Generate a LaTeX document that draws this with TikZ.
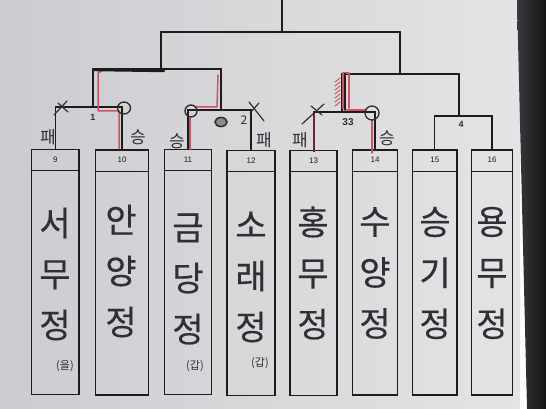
\documentclass[tikz,border=0pt]{standalone}
\usepackage{fontspec}
\setsansfont{Liberation Sans}
\newfontfamily\hand[FakeBold=0.4]{Noto Sans CJK KR}
\newfontfamily\handthin{Noto Sans CJK KR}
\usepackage{tikz}
\usetikzlibrary{positioning,calc}

\definecolor{paperL}{RGB}{204,204,208}
\definecolor{paperR}{RGB}{228,228,230}
\definecolor{ink}{RGB}{28,28,30}
\definecolor{pen}{RGB}{48,48,52}
\definecolor{marker}{RGB}{206,84,96}
\definecolor{darkmarker}{RGB}{110,36,44}
\definecolor{edgeL}{RGB}{58,58,62}
\definecolor{edgeR}{RGB}{20,20,22}

\tikzset{
  teambox/.style={draw=ink, line width=1.6pt, rectangle, inner sep=0pt, minimum height=245pt},
  bracket/.style={draw=ink, line width=1.1pt},
  redpen/.style={draw=marker, line width=1.5pt, line cap=round, line join=round},
  scrawl/.style={draw=pen, line width=1.2pt, line cap=round},
  num/.style={font=\sffamily\fontsize{8}{8}\selectfont, text=ink, inner sep=0pt},
  hname/.style={font=\hand\fontsize{34}{51}\selectfont, align=center, text=pen, inner sep=0pt},
  note/.style={font=\handthin\fontsize{17}{17}\selectfont, text=pen, inner sep=0pt},
  paren/.style={font=\handthin\fontsize{11}{11}\selectfont, text=pen, inner sep=0pt}
}

\begin{document}
\begin{tikzpicture}[x=1pt,y=-1pt]
  \useasboundingbox (0,0) rectangle (546,409);

  % paper and table edge
  \shade[left color=paperL, right color=paperR] (0,0) rectangle (520,409);
  \shade[left color=edgeL, right color=edgeR] (517,0) -- (546,0) -- (546,409) -- (527,409) -- cycle;

  % team boxes
  \node[teambox, minimum width=47.5pt] (b9) at (55.25,272) {};
  \node[teambox, minimum width=53pt] (b10) at (122,272.5) {};
  \node[teambox, minimum width=47pt] (b11) at (188,272) {};
  \node[teambox, minimum width=48pt] (b12) at (251,273) {};
  \node[teambox, minimum width=47pt] (b13) at (313.5,273) {};
  \node[teambox, minimum width=45pt] (b14) at (375,272.5) {};
  \node[teambox, minimum width=44.5pt] (b15) at (434.75,272.5) {};
  \node[teambox, minimum width=41pt] (b16) at (492,272.5) {};

  % header lines and seeds
  \foreach \b in {b9,b10,b11,b12,b13,b14,b15,b16}
    \draw[ink, line width=0.8pt] ([yshift=-22pt]\b.north west) -- ([yshift=-22pt]\b.north east);
  \node[num] (h9) at ([yshift=-11pt]b9.north) {9};
  \node[num] (h10) at ([yshift=-11pt]b10.north) {10};
  \node[num] (h11) at ([yshift=-11pt]b11.north) {11};
  \node[num] (h12) at ([yshift=-11pt]b12.north) {12};
  \node[num] (h13) at ([yshift=-11pt]b13.north) {13};
  \node[num] (h14) at ([yshift=-11pt]b14.north) {14};
  \node[num] (h15) at ([yshift=-11pt]b15.north) {15};
  \node[num] (h16) at ([yshift=-11pt]b16.north) {16};

  % team names
  \node[hname] (n9) at (55,274) {서\\무\\정};
  \node[hname] (n10) at (121,271) {안\\양\\정};
  \node[hname] (n11) at (188,279) {금\\당\\정};
  \node[hname] (n12) at (251,277) {소\\래\\정};
  \node[hname] (n13) at (313,273) {홍\\무\\정};
  \node[hname] (n14) at (375,273) {수\\양\\정};
  \node[hname] (n15) at (435,273) {승\\기\\정};
  \node[hname] (n16) at (492,273) {용\\무\\정};
  \node[paren] (p9) at (65,366) {(을)};
  \node[paren] (p11) at (195,366) {(갑)};
  \node[paren] (p12) at (260,363) {(갑)};

  % bracket
  \coordinate (m1) at (93,107);
  \coordinate (m2) at (221,110);
  \coordinate (m3) at (342,112);
  \coordinate (m4) at (459,116);
  \coordinate (s1) at (161,69);
  \coordinate (s2) at (400,74);
  \coordinate (f) at (282,32);
  \coordinate (top) at (282,0);
  \draw[bracket] (b9.north) |- (m1) -| (b10.north);
  \draw[bracket] (b11.north) |- (m2) -| (b12.north);
  \draw[bracket] (b13.north) |- (m3) -| (b14.north);
  \draw[bracket] (b15.north) |- (m4) -| (b16.north);
  \draw[bracket] (m1) |- (s1) -| (m2);
  \draw[bracket] (m3) |- (s2) -| (m4);
  \draw[bracket] (s1) |- (f) -| (s2);
  \draw[bracket] (f) -- (top);

  % red pen winners
  \draw[redpen] (119,149) -- (119,111) -- (98,111) -- (98,73) -- (102,71);
  \draw[ink, line width=2.4pt, line cap=round] (93,70) -- (164,71);
  \draw[redpen] (190,150) -- (190,118);
  \draw[redpen] (196,107) -- (217,107) -- (218,75);
  \draw[darkmarker, line width=2pt] (314,113) -- (314,152);
  \draw[redpen] (372,153) -- (372,120);
  \draw[redpen] (344,110) -- (366,110);
  \draw[redpen] (343,108) -- (343,73) -- (349,73) -- (349,108);
  \draw[ink, line width=2.2pt] (345,73) -- (345,110);
  \foreach \y in {78,82,...,102}
    \draw[redpen, line width=1pt] (335,\y+4) -- (340,\y);

  % crosses and circles
  \draw[scrawl] (54,115) -- (67,101);
  \draw[scrawl] (58,103) -- (68,112);
  \draw[scrawl] (249,102) -- (264,121);
  \draw[scrawl] (250,113) -- (259,103);
  \draw[scrawl] (302,124) -- (324,104);
  \draw[scrawl] (311,106) -- (322,115);
  \draw[pen, line width=1.4pt] (124,108) ellipse (6.5 and 6);
  \draw[pen, line width=1.4pt] (191,111) circle (6);
  \draw[pen, line width=1.3pt] (372,113) circle (7);
  \draw[pen, line width=1.6pt, fill=pen!55] (221,122) ellipse (6 and 4.5);

  % match labels
  \node[note, font=\sffamily\bfseries\fontsize{9}{9}\selectfont] (g1) at (93,117) {1};
  \node[note, font=\handthin\fontsize{12}{12}\selectfont] (g2) at (244,120) {2};
  \node[note, font=\sffamily\bfseries\fontsize{10}{10}\selectfont] (g3) at (348,122) {33};
  \node[note, font=\sffamily\bfseries\fontsize{9}{9}\selectfont] (g4) at (461,124) {4};

  % results
  \node[note] (r9) at (48,137) {패};
  \node[note] (r10) at (138,137) {승};
  \node[note] (r11) at (177,141) {승};
  \node[note] (r12) at (264,140) {패};
  \node[note] (r13) at (300,140) {패};
  \node[note] (r14) at (387,138) {승};
\end{tikzpicture}
\end{document}
